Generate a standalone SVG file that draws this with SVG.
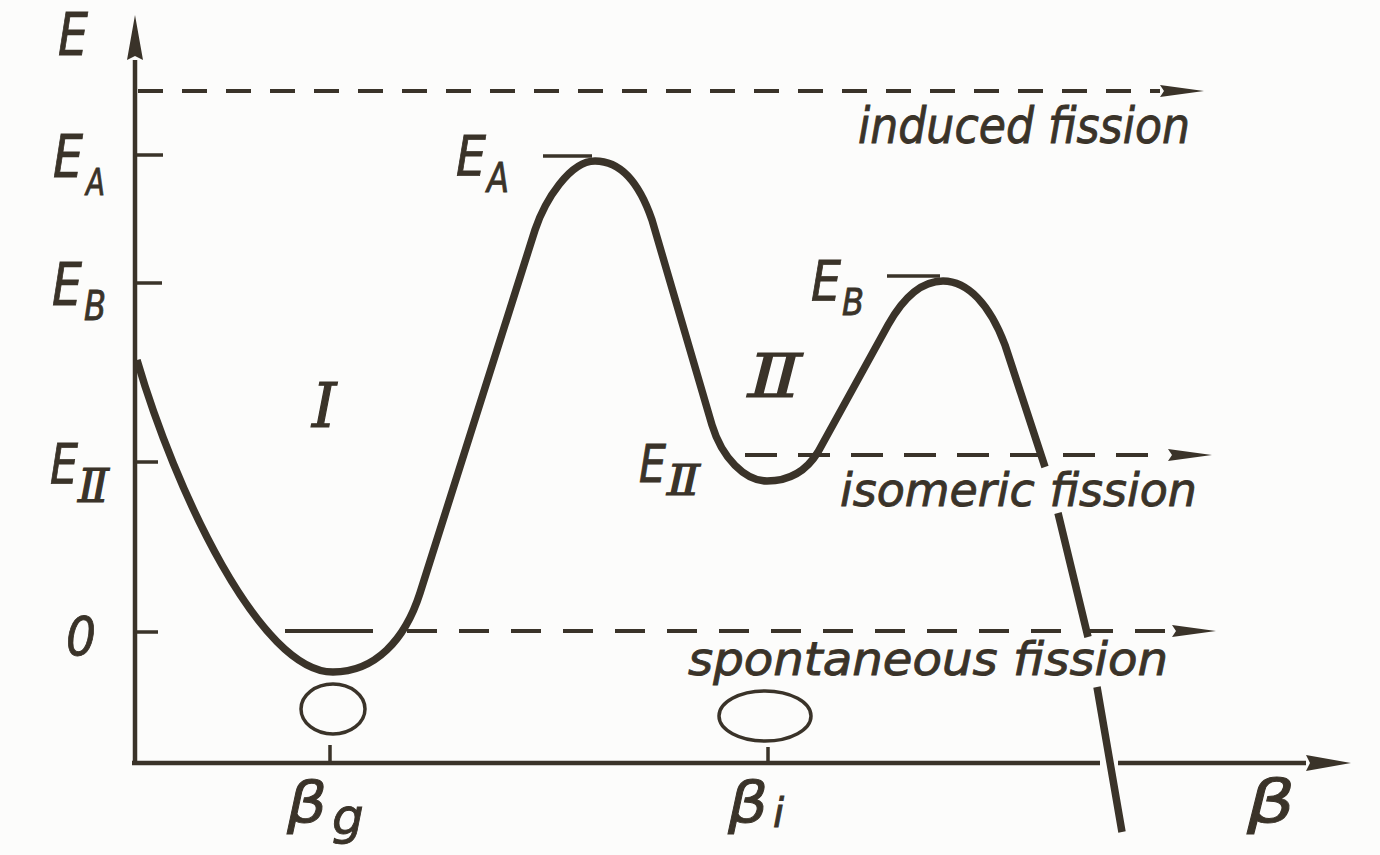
<svg xmlns="http://www.w3.org/2000/svg" width="1380" height="855" viewBox="0 0 1380 855">
<defs>
<style>
.ink{stroke:#3a3329;fill:none;stroke-linecap:butt}
.ax{stroke-width:4.5}
.tick{stroke-width:3.5}
.dash{stroke-width:4}
.curve{stroke-width:7.5;stroke-linejoin:round}
.t{font-family:"DejaVu Sans","Liberation Sans",sans-serif;font-style:oblique;fill:#3a3329;stroke:#3a3329;stroke-width:0.9}
.r{font-family:"DejaVu Serif","Liberation Serif",serif;font-style:italic;fill:#3a3329;stroke:#3a3329;stroke-width:1.2}
</style>
<marker id="ah" markerUnits="userSpaceOnUse" markerWidth="50" markerHeight="20" refX="0" refY="10" orient="auto" overflow="visible">
<path d="M0,4 L44,10 L0,16 L4,10 z" fill="#3a3329"/>
</marker>
<marker id="ahb" markerUnits="userSpaceOnUse" markerWidth="50" markerHeight="24" refX="0" refY="12" orient="auto" overflow="visible">
<path d="M0,4 L45,12 L0,20 L4,12 z" fill="#3a3329"/>
</marker>
</defs>
<rect width="1380" height="855" fill="#fcfcfb"/>

<g id="axes">
<path class="ink ax" d="M135,765 L135,60" marker-end="url(#ahb)"/>
<path class="ink ax" d="M132,763 L1100,763"/>
<path class="ink ax" d="M1118,763 L1306,763" marker-end="url(#ahb)"/>
<path class="ink tick" d="M135,155 H163 M135,283 H162 M135,462 H158 M135,632 H158"/>
<path class="ink tick" d="M330,745 V763 M768,747 V763"/>
</g>

<g id="connectors">
<path class="ink dash" d="M138,91 H1160" stroke-dasharray="25 19" marker-end="url(#ah)"/>
<path class="ink dash" d="M745,455 H1168" stroke-dasharray="32 21" marker-end="url(#ah)"/>
<path class="ink dash" d="M285,631 H373"/>
<path class="ink dash" d="M407,631 H1172" stroke-dasharray="30 22" marker-end="url(#ah)"/>
<path class="ink tick" d="M543,156 H592 M887,276 H940"/>
</g>

<g id="potential">
<path class="ink curve" d="M137,360 C175,490 260,672 333,672 C375,672 405,640 420,593 L535,230 C545,200 570,161 595,161 C622,161 640,185 652,220 L712,425 C722,458 745,481 767,481 C790,481 807,470 818,452 L888,325 C902,300 920,281 943,281 C968,281 990,305 1005,345 L1045,467"/>
<path class="ink curve" d="M1058,513 L1088,637 M1097,687 L1122,832"/>
</g>

<g id="shapes">
<ellipse class="ink" stroke-width="3.5" cx="333" cy="709" rx="32" ry="25"/>
<ellipse class="ink" stroke-width="3.5" cx="765" cy="716" rx="46" ry="25"/>
</g>

<g id="label-E">
<text class="t" x="58" y="55" font-size="58" textLength="30" lengthAdjust="spacingAndGlyphs">E</text>
</g>
<g id="label-EA-axis">
<text class="t" x="53" y="177" font-size="58" textLength="30" lengthAdjust="spacingAndGlyphs">E</text>
<text class="t" x="86" y="195" font-size="38" textLength="19" lengthAdjust="spacingAndGlyphs">A</text>
</g>
<g id="label-EB-axis">
<text class="t" x="52" y="305" font-size="58" textLength="30" lengthAdjust="spacingAndGlyphs">E</text>
<text class="t" x="84" y="320" font-size="40" textLength="22" lengthAdjust="spacingAndGlyphs">B</text>
</g>
<g id="label-EII-axis">
<text class="t" x="50" y="483" font-size="55" textLength="28" lengthAdjust="spacingAndGlyphs">E</text>
<text class="r" x="78" y="502" font-size="46" textLength="31" lengthAdjust="spacingAndGlyphs">Ⅱ</text>
</g>
<g id="label-0">
<text class="t" x="66" y="655" font-size="54" textLength="30" lengthAdjust="spacingAndGlyphs">0</text>
</g>
<g id="label-EA-peak">
<text class="t" x="456" y="175" font-size="55" textLength="30" lengthAdjust="spacingAndGlyphs">E</text>
<text class="t" x="487" y="192" font-size="41" textLength="22" lengthAdjust="spacingAndGlyphs">A</text>
</g>
<g id="label-EB-peak">
<text class="t" x="811" y="300" font-size="55" textLength="30" lengthAdjust="spacingAndGlyphs">E</text>
<text class="t" x="842" y="315" font-size="38" textLength="22" lengthAdjust="spacingAndGlyphs">B</text>
</g>
<g id="label-EII-well">
<text class="t" x="639" y="482" font-size="51" textLength="27" lengthAdjust="spacingAndGlyphs">E</text>
<text class="r" x="667" y="495" font-size="43" textLength="33" lengthAdjust="spacingAndGlyphs">Ⅱ</text>
</g>
<g id="label-I">
<text class="r" x="312" y="427" font-size="62">I</text>
</g>
<g id="label-II">
<text class="r" x="748" y="397" font-size="60" textLength="54" lengthAdjust="spacingAndGlyphs">Ⅱ</text>
</g>
<g id="label-induced">
<text class="t" x="858" y="143" font-size="50" textLength="332" lengthAdjust="spacingAndGlyphs">induced fission</text>
</g>
<g id="label-isomeric">
<text class="t" x="840" y="506" font-size="46" textLength="357" lengthAdjust="spacingAndGlyphs">isomeric fission</text>
</g>
<g id="label-spontaneous">
<text class="t" x="688" y="675" font-size="46" textLength="480" lengthAdjust="spacingAndGlyphs">spontaneous fission</text>
</g>
<g id="label-beta-g">
<text class="t" x="287" y="822" font-size="56" textLength="40" lengthAdjust="spacingAndGlyphs">β</text>
<text class="t" x="332" y="834" font-size="50">g</text>
</g>
<g id="label-beta-i">
<text class="t" x="728" y="822" font-size="56" textLength="40" lengthAdjust="spacingAndGlyphs">β</text>
<text class="t" x="773" y="827" font-size="40">i</text>
</g>
<g id="label-beta">
<text class="t" x="1247" y="822" font-size="58" textLength="48" lengthAdjust="spacingAndGlyphs">β</text>
</g>
</svg>
